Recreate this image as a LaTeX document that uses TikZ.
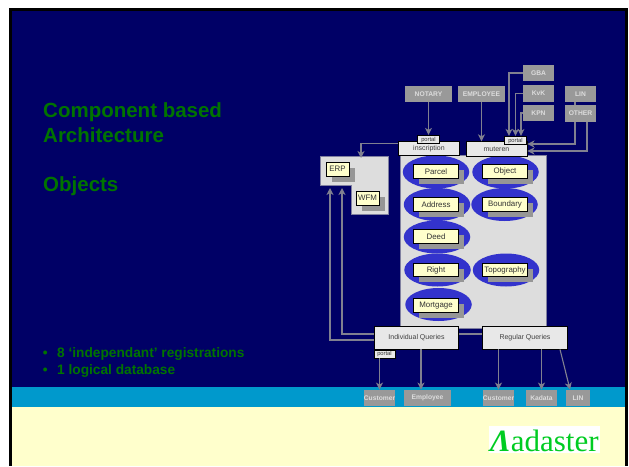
\documentclass[tikz,border=0pt]{standalone}
\usepackage{fontspec}
\setmainfont{Liberation Sans}
\newfontfamily\logofont{Liberation Serif}
\usetikzlibrary{shapes,shapes.geometric,arrows.meta,positioning,calc,shadows}

\definecolor{navybg}{HTML}{000066}
\definecolor{bandblue}{HTML}{0099CC}
\definecolor{creambg}{HTML}{FFFFCC}
\definecolor{titlegreen}{HTML}{007400}
\definecolor{logogreen}{HTML}{00CC22}
\definecolor{extgrey}{HTML}{999999}
\definecolor{exttext}{HTML}{DDDDDD}
\definecolor{panelgrey}{HTML}{DDDDDD}
\definecolor{panelline}{HTML}{8080A0}
\definecolor{appgrey}{HTML}{E8E8E8}
\definecolor{ovalblue}{HTML}{3333CC}
\definecolor{shadowgrey}{HTML}{969696}
\definecolor{linkgrey}{HTML}{808090}

\tikzset{
    extbox/.style={fill=extgrey, text=exttext, inner sep=0pt, minimum width=31pt, minimum height=16.5pt, font=\fontsize{6.7}{8}\bfseries\selectfont},
    appbox/.style={draw=black, line width=0.9pt, fill=appgrey, inner sep=0pt, minimum height=14.5pt, minimum width=61pt, text=black!75, font=\fontsize{7}{8}\selectfont},
    querybox/.style={appbox, minimum width=84.5pt, minimum height=23pt},
    portalbox/.style={draw=black, line width=0.7pt, fill=appgrey, inner sep=0pt, minimum width=22.5pt, minimum height=8.5pt, text=black!80, font=\fontsize{5.8}{7}\selectfont},
    oval/.style={ellipse, fill=ovalblue, inner sep=0pt, minimum width=66.5pt, minimum height=33pt},
    objbox/.style={draw=black, line width=0.9pt, fill=creambg, inner sep=0pt, minimum width=45.5pt, minimum height=13.5pt, text=black!80, font=\fontsize{7.9}{9}\selectfont,
        drop shadow={shadow xshift=5.5pt, shadow yshift=-5.5pt, fill=shadowgrey, opacity=1}},
    link/.style={draw=linkgrey, line width=1.1pt},
    arrowlink/.style={link, -{Stealth[length=7pt, width=7pt, inset=2pt]}},
    slidetext/.style={text=titlegreen, inner sep=0pt, anchor=base west, font=\fontsize{13.7}{16}\bfseries\selectfont}
}

\begin{document}
\begin{tikzpicture}[x=1pt, y=-1pt]
    \useasboundingbox (0, 0) rectangle (629, 466);

    % Slide background
    \fill[black] (9, 8) rectangle (627.5, 466);
    \fill[navybg] (12, 11) rectangle (625, 387);
    \fill[bandblue] (12, 387) rectangle (625, 407);
    \fill[creambg] (12, 407) rectangle (625, 466);

    % Slide text
    \node[slidetext, anchor=north west, align=left, font=\fontsize{20.5}{24.7}\bfseries\selectfont] (title) at (43, 102.5)
        {Component based\\Architecture\\[24.7pt]Objects};
    \node[slidetext] (bullet1) at (57, 357.5) {\llap{•\hspace{9.5pt}}8 ‘independant’ registrations};
    \node[slidetext] (bullet2) at (57, 374.5) {\llap{•\hspace{9.5pt}}1 logical database};

    % Logo
    \node[fill=white, inner sep=0pt, minimum width=111pt, minimum height=27pt] (logo) at (544.5, 439.5) {};
    \node[inner sep=0pt, anchor=base west, text=logogreen, font=\logofont\fontsize{31}{31}\selectfont] (logotext) at (490, 451) {\textbf{\textit{Λ}}adaster};

    % Object panel
    \draw[line width=1pt, draw=panelline, fill=panelgrey] (400, 155) rectangle (546, 328);

    % ERP and WFM panel
    \draw[line width=1pt, draw=panelline, fill=panelgrey] (320, 156) -- (388, 156) -- (388, 214) -- (351, 214) -- (351, 185) -- (320, 185) -- cycle;
    \node[objbox, minimum width=23pt, minimum height=14pt] (erp) at (337.5, 169) {ERP};
    \node[objbox, minimum width=23pt, minimum height=14pt] (wfm) at (367.5, 198) {WFM};

    % Ovals with their objects
    \foreach \name/\label/\x/\y/\bx/\by in {
        parcel/Parcel/436/172/436/171.5,
        object/Object/505.5/172/505/171.5,
        address/Address/437/204.5/436/204.5,
        boundary/Boundary/504.5/204.5/505/204.5,
        deed/Deed/437/237/436/236.5,
        right/Right/437.5/270/436/270,
        topography/Topography/506/270/505/270,
        mortgage/Mortgage/438.5/304.5/436/305.5} {
        \node[oval] (\name_oval) at (\x, \y) {};
        \node[objbox] (\name) at (\bx, \by) {\label};
    }

    % Applications on top of the panel
    \node[appbox] (inscription) at (429, 148.5) {inscription};
    \node[appbox] (muteren) at (496.5, 149) {muteren};
    \node[portalbox] (inscription_portal) at (428.5, 139.5) {portal};
    \node[portalbox] (muteren_portal) at (515.5, 140.5) {portal};

    % Suppliers
    \node[extbox] (gba) at (538.5, 73) {GBA};
    \node[extbox] (kvk) at (538.5, 93.5) {KvK};
    \node[extbox] (kpn) at (538.5, 113) {KPN};
    \node[extbox, minimum width=47pt] (notary) at (428.5, 94) {NOTARY};
    \node[extbox, minimum width=47pt] (employee) at (481.5, 94) {EMPLOYEE};
    \node[extbox] (lin) at (580.5, 94) {LIN};

    % LIN line runs behind OTHER
    \draw[arrowlink] ([xshift=-5.5pt]lin.south) |- ([yshift=5pt]muteren.east);
    \node[extbox, minimum height=17pt] (other) at (580.5, 113.5) {OTHER};
    \draw[arrowlink] ([xshift=6.5pt]other.south) |- ([yshift=-2pt]muteren.east);

    \draw[arrowlink] (notary) -- (inscription_portal);
    \draw[arrowlink] (employee) -- (employee |- muteren.north);
    \draw[arrowlink] (gba.west) -| ([xshift=-6.5pt]muteren_portal.north);
    \draw[arrowlink] (kvk.west) -| (muteren_portal.north);
    \draw[arrowlink] (kpn.west) -| ([xshift=5.5pt]muteren_portal.north);

    % Into the ERP panel
    \coordinate (erp_top) at (361, 158);
    \coordinate (erp_in1) at (330, 188);
    \coordinate (erp_in2) at (342, 188);
    \draw[arrowlink] ([yshift=5pt]inscription.west) -| (erp_top);

    % Queries
    \node[querybox] (individual) at (416.5, 337.5) {Individual Queries};
    \node[querybox] (regular) at (525, 337.5) {Regular Queries};
    \node[portalbox, minimum width=21pt, minimum height=8pt] (individual_portal) at (384.5, 354) {portal};

    \draw[link] ([yshift=3.5pt]individual.east) -- ([yshift=3.5pt]regular.west);
    \draw[arrowlink] ([yshift=-2.5pt]individual.west) -| (erp_in1);
    \draw[arrowlink] ([yshift=3.5pt]individual.west) -| (erp_in2);

    % Consumers
    \node[extbox] (customer1) at (379.5, 398) {Customer};
    \node[extbox, minimum width=47pt] (employee2) at (427.5, 398) {Employee};
    \node[extbox] (customer2) at (498.5, 398) {Customer};
    \node[extbox] (kadata) at (541.5, 398) {Kadata};
    \node[extbox, minimum width=24pt] (lin2) at (578, 398) {LIN};

    \draw[arrowlink] (individual_portal.south -| customer1) -- (customer1.north);
    \draw[arrowlink] ([xshift=4.5pt]individual.south) -- ([xshift=-6.5pt]employee2.north);
    \draw[arrowlink] (customer2 |- regular.south) -- (customer2.north);
    \draw[arrowlink] (kadata |- regular.south) -- (kadata.north);
    \draw[arrowlink] ([xshift=35pt]regular.south) -- ([xshift=-8pt]lin2.north);
\end{tikzpicture}
\end{document}
